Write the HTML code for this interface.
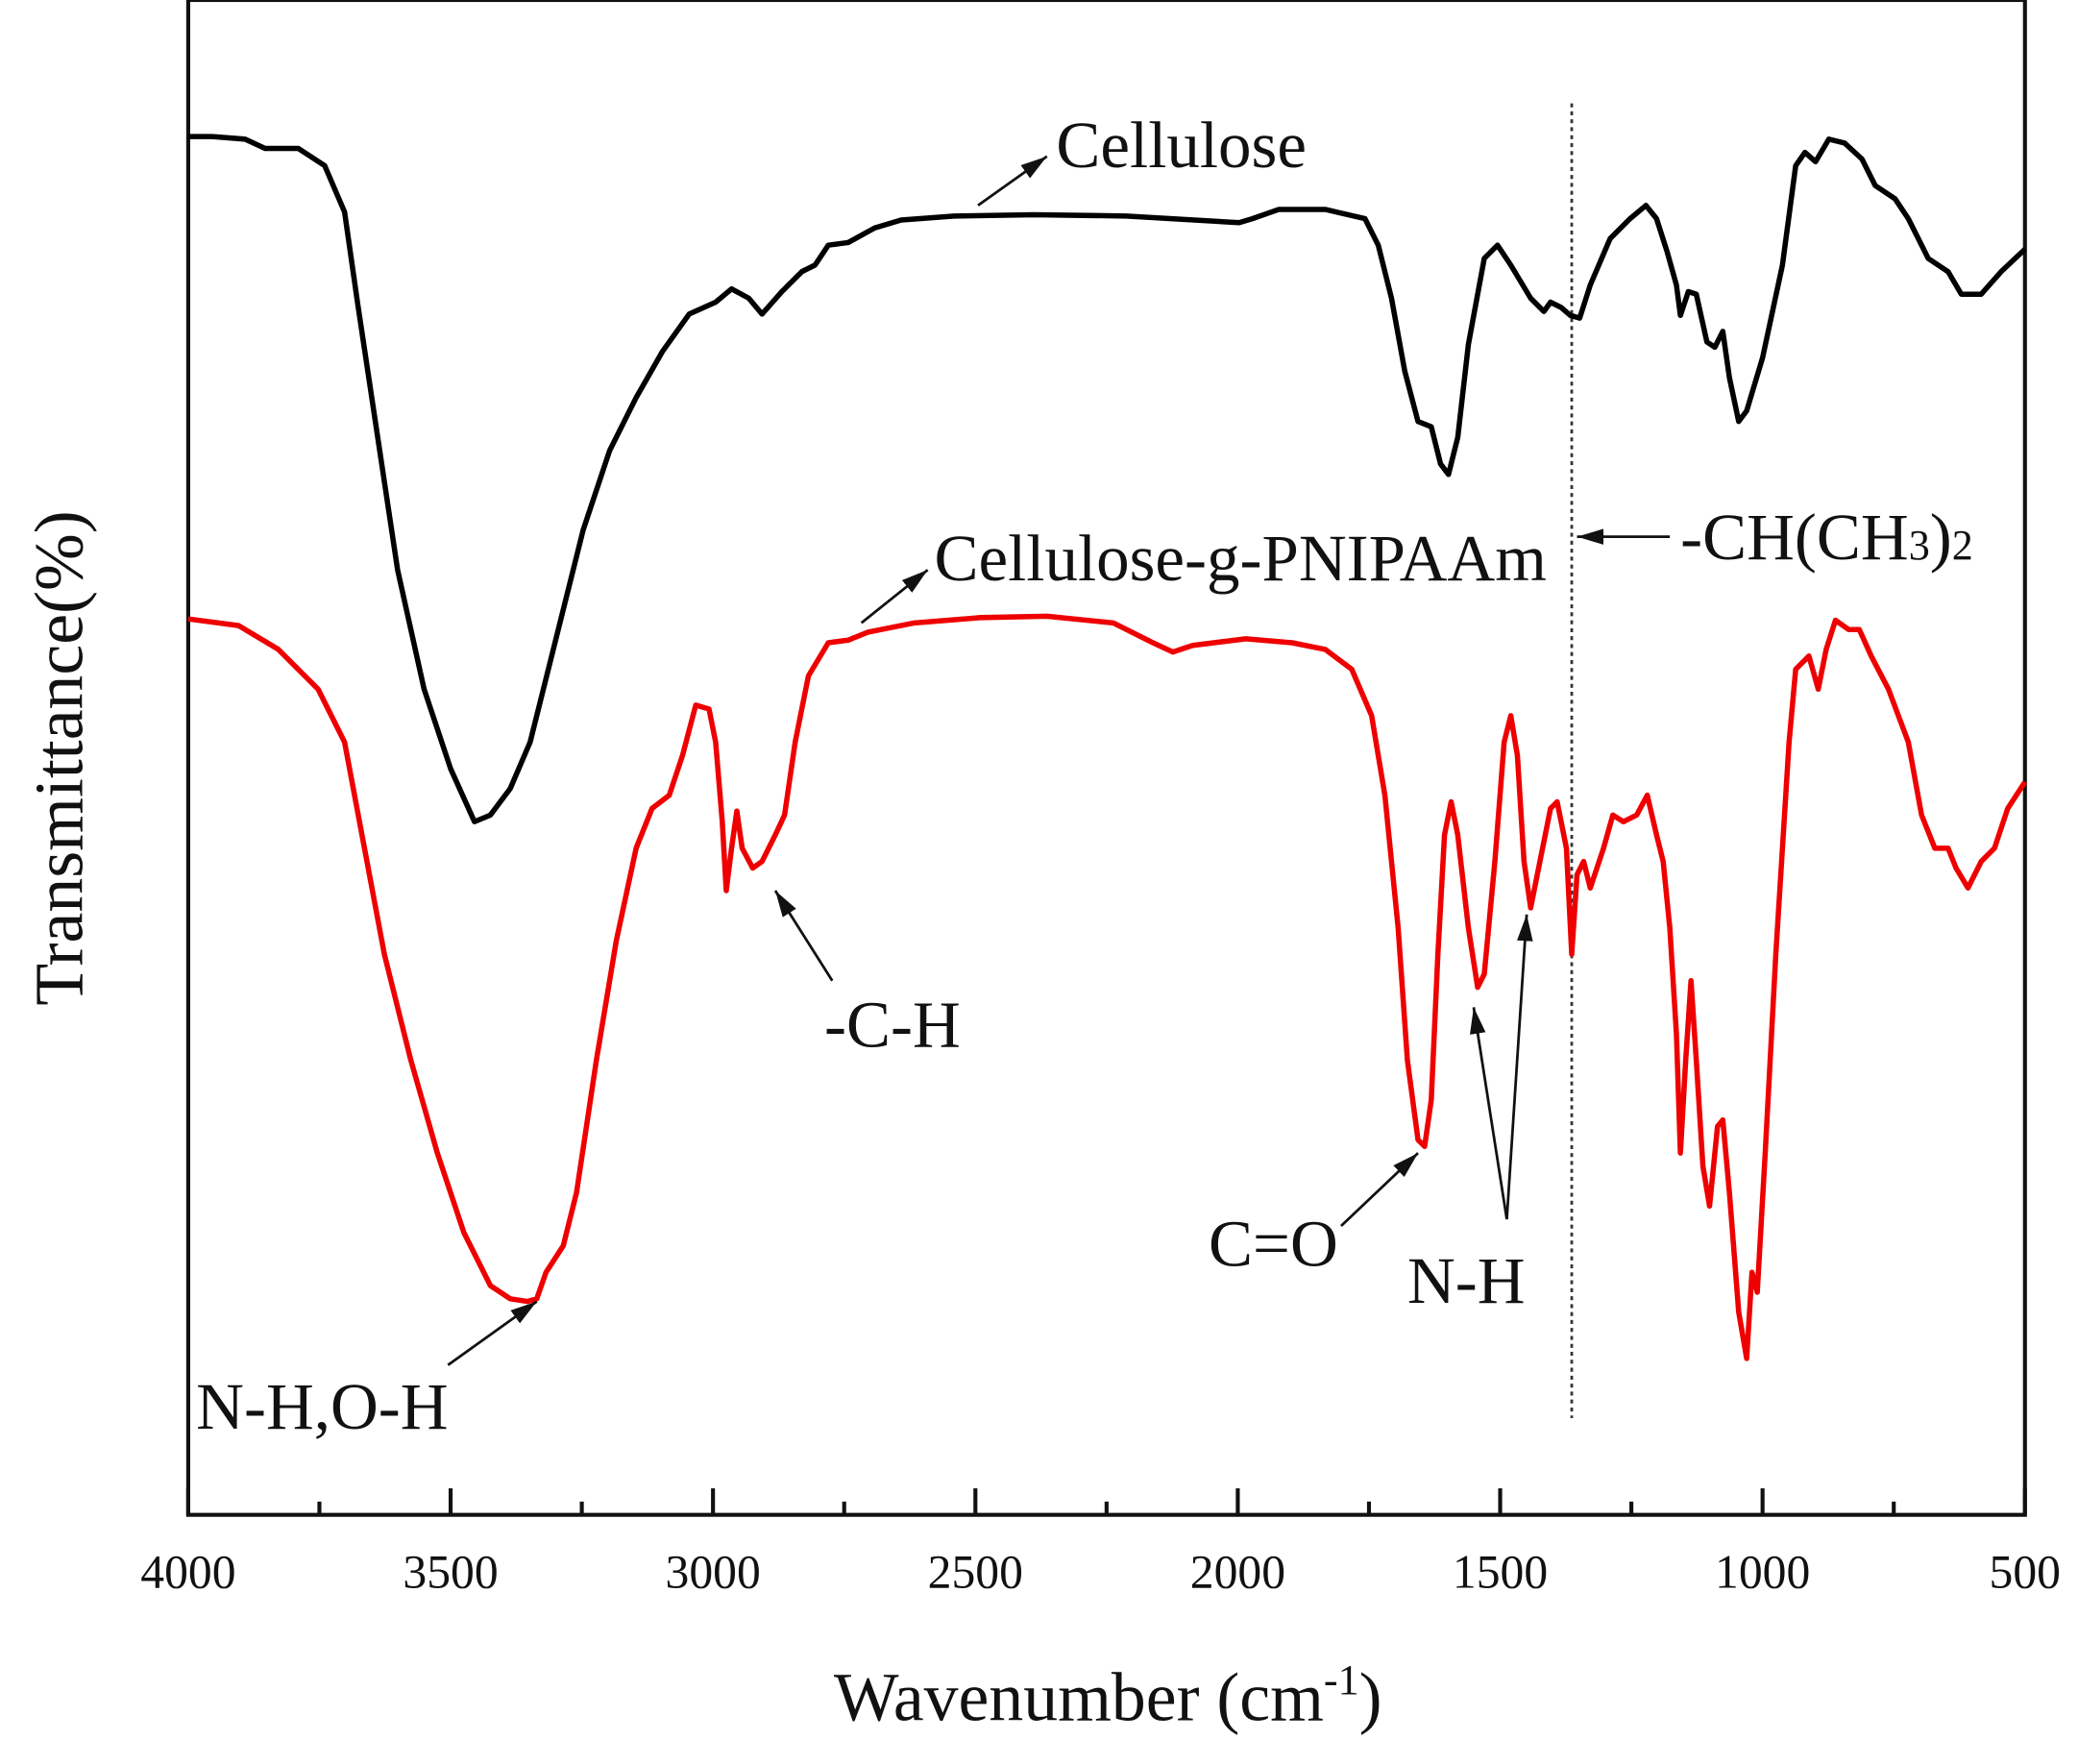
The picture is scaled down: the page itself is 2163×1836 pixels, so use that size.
<!DOCTYPE html>
<html><head><meta charset="utf-8"><style>
html,body{margin:0;padding:0;background:#fff;}
svg{display:block;}
text{font-family:"Liberation Serif",serif;fill:#111;}
</style></head><body>
<svg width="2163" height="1836" viewBox="0 0 1568 1331" xmlns="http://www.w3.org/2000/svg">
<defs>
<marker id="a2" viewBox="0 0 20 12" markerWidth="20" markerHeight="12" refX="20" refY="6" orient="auto" markerUnits="userSpaceOnUse"><path d="M0,0 L20,6 L0,12 z" fill="#111"/></marker></defs>
<rect x="142" y="0" width="1386" height="1143" fill="none" stroke="#111" stroke-width="3"/>
<g stroke="#111" stroke-width="3">
<line x1="142" y1="1143" x2="142" y2="1123"/><line x1="241" y1="1143" x2="241" y2="1133"/>
<line x1="340" y1="1143" x2="340" y2="1123"/><line x1="439" y1="1143" x2="439" y2="1133"/>
<line x1="538" y1="1143" x2="538" y2="1123"/><line x1="637" y1="1143" x2="637" y2="1133"/>
<line x1="736" y1="1143" x2="736" y2="1123"/><line x1="835" y1="1143" x2="835" y2="1133"/>
<line x1="934" y1="1143" x2="934" y2="1123"/><line x1="1033" y1="1143" x2="1033" y2="1133"/>
<line x1="1132" y1="1143" x2="1132" y2="1123"/><line x1="1231" y1="1143" x2="1231" y2="1133"/>
<line x1="1330" y1="1143" x2="1330" y2="1123"/><line x1="1429" y1="1143" x2="1429" y2="1133"/>
<line x1="1528" y1="1143" x2="1528" y2="1123"/>
</g>
<g font-size="36" text-anchor="middle">
<text x="142" y="1198">4000</text><text x="340" y="1198">3500</text><text x="538" y="1198">3000</text>
<text x="736" y="1198">2500</text><text x="934" y="1198">2000</text><text x="1132" y="1198">1500</text>
<text x="1330" y="1198">1000</text><text x="1528" y="1198">500</text>
</g>
<text x="836" y="1298" font-size="52" text-anchor="middle">Wavenumber (cm<tspan dy="-20" font-size="32">-1</tspan><tspan dy="20">)</tspan></text>
<text transform="translate(62,572) rotate(-90)" font-size="52" text-anchor="middle">Transmittance(%)</text>
<line x1="1186" y1="78" x2="1186" y2="1070" stroke="#333" stroke-width="2" stroke-dasharray="3,3"/>
<polyline fill="none" stroke="#000" stroke-width="4" stroke-linejoin="round" points="142,103 160,103 185,105 200,112 225,112 245,125 260,160 270,230 285,330 300,430 320,520 340,580 358,620 370,615 385,595 400,560 420,480 440,400 460,340 480,300 500,265 520,237 540,228 552,218 565,225 575,237 590,220 605,205 615,200 625,185 640,183 660,172 680,166 720,163 780,162 850,163 935,168 945,165 965,158 1000,158 1030,165 1040,185 1050,225 1060,280 1070,318 1080,322 1087,350 1093,358 1100,330 1108,260 1120,195 1130,185 1140,200 1155,225 1165,235 1170,228 1178,232 1185,238 1192,240 1200,215 1215,180 1230,165 1242,155 1250,165 1258,190 1265,215 1268,238 1274,220 1280,222 1288,258 1294,262 1300,250 1305,285 1312,318 1318,310 1330,270 1345,200 1355,125 1362,115 1370,122 1380,105 1392,108 1405,120 1415,140 1430,150 1440,165 1455,195 1470,205 1480,222 1495,222 1510,205 1528,188"/>
<polyline fill="none" stroke="#ee0000" stroke-width="4" stroke-linejoin="round" points="142,467 180,472 210,490 240,520 260,560 275,640 290,720 310,800 330,870 350,930 370,970 385,980 398,982 405,980 412,960 425,940 435,900 450,800 465,710 480,640 492,610 505,600 515,570 525,532 535,535 540,560 545,620 548,672 552,640 556,612 560,640 568,655 575,650 585,630 592,615 600,560 610,510 625,485 640,483 655,477 690,470 740,466 790,465 840,470 870,485 885,492 900,487 940,482 975,485 1000,490 1020,505 1035,540 1045,600 1055,700 1062,800 1070,860 1075,865 1080,830 1085,720 1090,630 1095,605 1100,630 1108,700 1115,745 1120,735 1128,650 1135,560 1140,540 1145,570 1150,650 1155,685 1162,650 1170,610 1175,605 1182,640 1186,720 1190,660 1195,650 1200,670 1210,640 1217,615 1225,620 1235,615 1243,600 1250,630 1255,650 1260,700 1265,780 1268,870 1272,800 1276,740 1280,800 1285,880 1290,910 1296,850 1300,845 1305,900 1312,990 1318,1025 1322,960 1326,975 1332,870 1340,720 1350,560 1355,505 1365,495 1372,520 1378,490 1385,468 1395,475 1403,475 1412,495 1425,520 1440,560 1450,615 1460,640 1470,640 1476,655 1485,670 1495,650 1505,640 1515,610 1528,590"/>
<g stroke="#111" stroke-width="2" marker-end="url(#a2)">
<line x1="738" y1="155" x2="790" y2="118"/>
<line x1="650" y1="470" x2="700" y2="430"/>
<line x1="1260" y1="405" x2="1190" y2="405"/>
<line x1="628" y1="740" x2="585" y2="672"/>
<line x1="338" y1="1030" x2="405" y2="982"/>
<line x1="1012" y1="925" x2="1070" y2="870"/>
<line x1="1137" y1="920" x2="1112" y2="760"/>
<line x1="1137" y1="920" x2="1152" y2="690"/>
</g>
<g font-size="50">
<text x="797" y="126">Cellulose</text>
<text x="705" y="438">Cellulose-g-PNIPAAm</text>
<text x="1268" y="422">-CH(CH<tspan font-size="32">3</tspan>)<tspan font-size="32">2</tspan></text>
<text x="622" y="790">-C-H</text>
<text x="148" y="1078">N-H,O-H</text>
<text x="912" y="955">C=O</text>
<text x="1062" y="983">N-H</text>
</g>
</svg>
</body></html>
